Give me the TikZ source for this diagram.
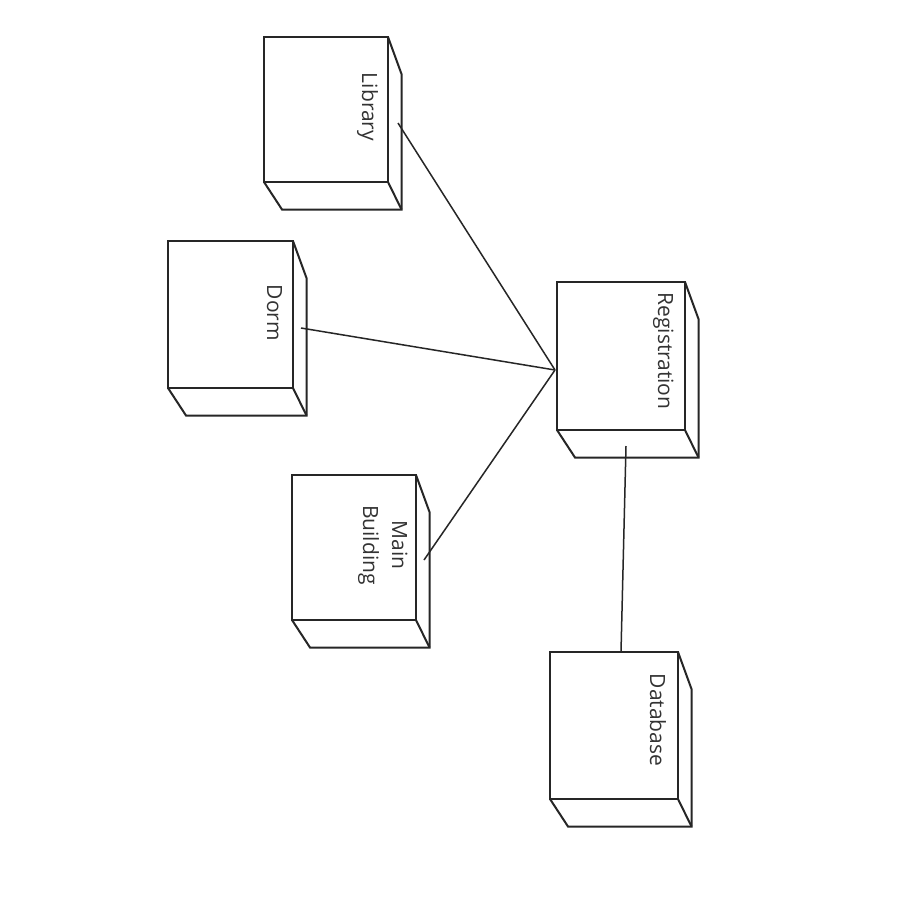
\documentclass[tikz,border=0pt]{standalone}
\usepackage{fontspec}
\setmainfont{Open Sans}
\usetikzlibrary{calc}

% Draws the side and bottom faces of a device node (3D cuboid look)
\newcommand{\cubefaces}[1]{%
  \draw[ink] (#1.north east) -- ++(13.5,37) -- ($(#1.south east)+(13.5,27.5)$)
    -- ($(#1.south west)+(18,27.5)$) -- (#1.south west);
  \draw[ink] (#1.south east) -- ++(13.5,27.5);
}

\begin{document}
\begin{tikzpicture}[x=1pt,y=-1pt,
  ink/.style={line width=2pt, draw=black!85, line join=miter},
  face/.style={ink, rectangle, inner sep=0pt, outer sep=0pt, fill=white},
  wire/.style={line width=1.5pt, draw=black!85},
  label/.style={rotate=-90, anchor=base, inner sep=0pt, text=black!80,
    font=\fontsize{21}{29}\selectfont, align=center}
]
\useasboundingbox[fill=white] (0,0) rectangle (900,900);

% device nodes (front faces)
\node[face, minimum width=124pt, minimum height=145pt] (lib)  at (326,109.5) {};
\node[face, minimum width=125pt, minimum height=147pt] (dorm) at (230.5,314.5) {};
\node[face, minimum width=128pt, minimum height=148pt] (reg)  at (621,356) {};
\node[face, minimum width=124pt, minimum height=145pt] (main) at (354,547.5) {};
\node[face, minimum width=128pt, minimum height=147pt] (db)   at (614,725.5) {};

\cubefaces{lib}
\cubefaces{dorm}
\cubefaces{reg}
\cubefaces{main}
\cubefaces{db}

% labels
\node[label] (lib-t)  at (362,107) {Library};
\node[label] (dorm-t) at (267,313) {Dorm};
\node[label] (reg-t)  at (658,351) {Registration};
\node[label] (main-t) at (363,545) {Main\\Building};
\node[label] (db-t)   at (650,720) {Database};

% connection points
\coordinate (lib-port)  at ($(lib.east)+(10,13.5)$);
\coordinate (dorm-port) at ($(dorm.east)+(8,13.5)$);
\coordinate (main-port) at ($(main.east)+(8,12.5)$);
\coordinate (hub)       at ($(reg.west)+(-2,14)$);
\coordinate (reg-port)  at ($(reg.south)+(5,16)$);
\coordinate (db-port)   at ($(db.north)+(7,0)$);

% links
\draw[wire] (lib-port) -- (hub);
\draw[wire] (dorm-port) -- (hub);
\draw[wire] (main-port) -- (hub);
\draw[wire] (reg-port) -- (db-port);
\end{tikzpicture}
\end{document}
